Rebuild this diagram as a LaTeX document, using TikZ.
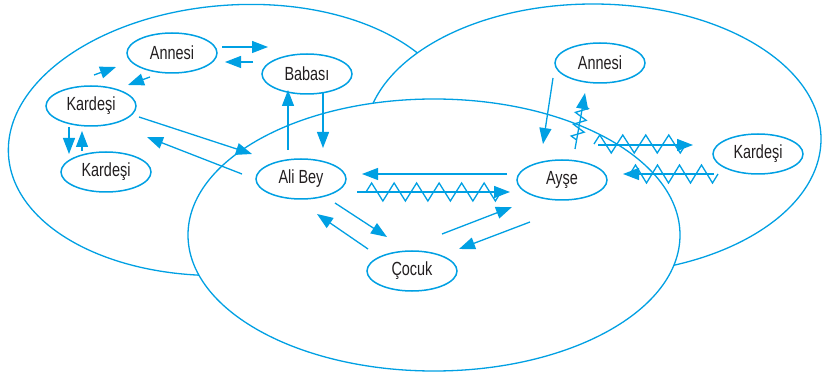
\documentclass[tikz,border=0pt]{standalone}
\usepackage{fontspec}
\setmainfont{Liberation Sans}[FakeStretch=0.76]
\usetikzlibrary{shapes.geometric,arrows.meta,decorations.pathmorphing}
\definecolor{cb}{RGB}{0,160,227}
\definecolor{tx}{RGB}{35,31,32}
\begin{document}
\begin{tikzpicture}[x=1pt,y=-1pt,
  big/.style={draw=cb,line width=1.3pt,fill=white},
  nd/.style={ellipse,draw=cb,line width=1.5pt,minimum width=90pt,minimum height=40pt,inner sep=0pt,text=tx,font=\fontsize{19}{21}\selectfont},
  arr/.style={draw=cb,line width=1.3pt,-{Triangle[length=16pt,width=12pt]}},
  zz/.style={draw=cb,line width=1.3pt,decorate,decoration={zigzag,segment length=#1,amplitude=9pt}},
  zs/.style={draw=cb,line width=1.3pt,decorate,decoration={zigzag,segment length=12pt,amplitude=6pt}},
]
\useasboundingbox (0,0) rectangle (822,374);
% big ellipses
\path[big,rotate around={4:(234,140)}] (234,140) ellipse [x radius=226pt, y radius=135pt];
\path[big] (593,139) ellipse [x radius=228pt, y radius=135pt];
\path[big] (434,235) ellipse [x radius=246pt, y radius=136pt];
% nodes
\node[nd] (annL) at (172,53) {Annesi};
\node[nd] (bab) at (307,74) {Babası};
\node[nd] (karA) at (91,106) {Kardeşi};
\node[nd] (karB) at (106,172) {Kardeşi};
\node[nd] (ali) at (301,179) {Ali Bey};
\node[nd] (ayse) at (562,180) {Ayşe};
\node[nd] (cocuk) at (412,271) {Çocuk};
\node[nd] (annR) at (600,63) {Annesi};
\node[nd] (karR) at (758,154) {Kardeşi};
% connector end points
\coordinate (p1s) at (222,47);  \coordinate (p1e) at (268,47);
\coordinate (p2s) at (253,62);  \coordinate (p2e) at (225,62);
\coordinate (p3s) at (94,75);   \coordinate (p3e) at (116,67);
\coordinate (p4s) at (150,77);  \coordinate (p4e) at (128,85);
\coordinate (p5s) at (69,127);  \coordinate (p5e) at (69,154);
\coordinate (p6s) at (82,151);  \coordinate (p6e) at (82,131);
\coordinate (p7s) at (139,117); \coordinate (p7e) at (252,154);
\coordinate (p8s) at (242,174); \coordinate (p8e) at (147,137);
\coordinate (p9s) at (288,150); \coordinate (p9e) at (288,90);
\coordinate (p10s) at (323,93); \coordinate (p10e) at (323,148);
\coordinate (p11s) at (507,174); \coordinate (p11e) at (362,174);
\coordinate (p12s) at (357,192); \coordinate (p12e) at (510,192);
\coordinate (p13s) at (335,203); \coordinate (p13e) at (387,237);
\coordinate (p14s) at (368,249); \coordinate (p14e) at (317,214);
\coordinate (p15s) at (442,234); \coordinate (p15e) at (512,207);
\coordinate (p16s) at (530,222); \coordinate (p16e) at (459,249);
\coordinate (p17s) at (553,78);  \coordinate (p17e) at (543,144);
\coordinate (p18s) at (575,149); \coordinate (p18e) at (585,93);
\coordinate (p19s) at (598,145); \coordinate (p19e) at (693,145);
\coordinate (p20s) at (714,174); \coordinate (p20e) at (623,174);
% zigzag spans
\coordinate (z12a) at (366,192); \coordinate (z12b) at (501,192);
\coordinate (z18a) at (576.6,140); \coordinate (z18b) at (583,104);
\coordinate (z19a) at (594,144); \coordinate (z19b) at (686,144);
\coordinate (z20a) at (630,174); \coordinate (z20b) at (718,174);
% arrows
\foreach \i in {1,...,20} {\draw[arr] (p\i s) -- (p\i e);}
\draw[zz=22.5pt] (z12a) -- (z12b);
\draw[zs] (z18a) -- (z18b);
\draw[zz=23pt] (z19a) -- (z19b);
\draw[zz=22pt] (z20a) -- (z20b);
\end{tikzpicture}
\end{document}
